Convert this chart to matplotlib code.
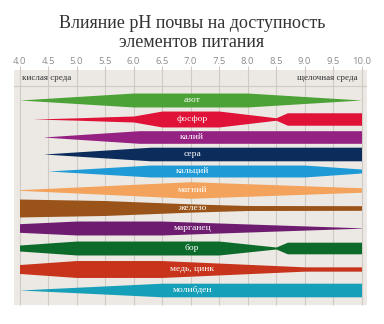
import matplotlib
matplotlib.use("Agg")
import matplotlib.pyplot as plt

# --- data -------------------------------------------------------------
title_lines = ["Влияние pH почвы на доступность", "элементов питания"]
ph_ticks = [4.0, 4.5, 5.0, 5.5, 6.0, 6.5, 7.0, 7.5, 8.0, 8.5, 9.0, 9.5, 10.0]
ph_tick_labels = ["4.0", "4.5", "5.0", "5.5", "6.0", "6.5", "7.0",
                  "7.5", "8.0", "8.5", "9.0", "9.5", "10.0"]
acid_label = "кислая среда"
alkaline_label = "щелочная среда"

elements = ["азот", "фосфор", "калий", "сера", "кальций", "магний",
            "железо", "марганец", "бор", "медь, цинк", "молибден"]

# availability profiles: (pH, relative availability), 1.0 = widest band
nitrogen_ph = [4.0, 6.0, 8.0, 10.0]
nitrogen_av = [0.0, 0.84, 0.84, 0.0]
phosphorus_ph = [4.24, 5.0, 5.6, 6.0, 6.5, 7.5, 8.5, 8.7, 10.0]
phosphorus_av = [0.0, 0.14, 0.28, 0.36, 0.96, 0.96, 0.15, 0.75, 0.75]
potassium_ph = [4.41, 6.1, 10.0]
potassium_av = [0.0, 0.76, 0.76]
sulfur_ph = [4.42, 6.3, 10.0]
sulfur_av = [0.0, 0.82, 0.82]
calcium_ph = [4.5, 6.3, 9.0, 10.0]
calcium_av = [0.0, 0.72, 0.72, 0.24]
magnesium_ph = [4.0, 7.0, 10.0]
magnesium_av = [0.04, 1.0, 0.27]
iron_ph = [4.0, 5.5, 7.0, 8.0, 10.0]
iron_av = [1.08, 0.9, 0.5, 0.3, 0.28]
manganese_ph = [4.0, 5.0, 6.5, 10.0]
manganese_av = [0.52, 0.84, 0.84, 0.02]
boron_ph = [4.0, 5.0, 7.5, 8.5, 8.7, 10.0]
boron_av = [0.36, 0.84, 0.84, 0.12, 0.7, 0.7]
copper_zinc_ph = [4.0, 5.0, 6.5, 9.0, 10.0]
copper_zinc_av = [0.54, 1.02, 1.02, 0.26, 0.26]
molybdenum_ph = [4.0, 6.5, 10.0]
molybdenum_av = [0.0, 0.82, 0.82]

profiles = [
    (nitrogen_ph, nitrogen_av),
    (phosphorus_ph, phosphorus_av),
    (potassium_ph, potassium_av),
    (sulfur_ph, sulfur_av),
    (calcium_ph, calcium_av),
    (magnesium_ph, magnesium_av),
    (iron_ph, iron_av),
    (manganese_ph, manganese_av),
    (boron_ph, boron_av),
    (copper_zinc_ph, copper_zinc_av),
    (molybdenum_ph, molybdenum_av),
]

# --- styling / layout ---------------------------------------------------
colors = ["#4CA236", "#E01238", "#952183", "#0C2D5C", "#1E9BD7", "#F4A35C",
          "#9A5419", "#6E1C70", "#0C6A2B", "#C7341B", "#169FB8"]
row_y = [100, 119, 137, 154, 171, 190, 208, 228, 248, 269, 290]
half_scale = 8.3
W, H = 384, 324
bg = "#ECE9E4"
grid_c = "#CFCAC3"
serif = ["Liberation Serif", "DejaVu Serif"]

fig = plt.figure(figsize=(W / 100, H / 100), dpi=100)
fig.patch.set_facecolor("white")

# axes spans the beige panel; x in pH, y in rows from the top
px_left, px_right, px_top, px_bot = 14, 367, 70, 305
ph0_px, ph_step_px = 19.5, 57.0
to_ph = lambda px: 4.0 + (px - ph0_px) / ph_step_px
ax = fig.add_axes([px_left / W, 1 - px_bot / H,
                   (px_right - px_left) / W, (px_bot - px_top) / H])
ax.set_xlim(to_ph(px_left), to_ph(px_right))
ax.set_ylim(px_bot, px_top)
ax.set_facecolor(bg)
for s in ax.spines.values():
    s.set_visible(False)
ax.set_yticks([])

# pH scale on top
ax.set_xticks(ph_ticks)
ax.set_xticklabels(ph_tick_labels)
ax.xaxis.tick_top()
ax.tick_params(axis="x", length=0, pad=3.0, labelsize=6.8,
               labelcolor="#8C8C8C")
for lab in ax.get_xticklabels():
    lab.set_fontfamily(["Open Sans", "DejaVu Sans"])

# vertical grid, running slightly above the panel as tick marks
ax.vlines(ph_ticks, px_top - 4, px_bot, colors=grid_c, linewidth=0.8,
          clip_on=False, zorder=1)
# header strip line
ax.axhline(86, color=grid_c, linewidth=0.8, zorder=1)

ax.text(to_ph(22), 78, acid_label, ha="left", va="center",
        fontsize=6.5, color="#333333", family=serif, zorder=3)
ax.text(to_ph(357), 78, alkaline_label, ha="right", va="center",
        fontsize=6.5, color="#333333", family=serif, zorder=3)

# availability bands
for name, (ph, av), yc, col in zip(elements, profiles, row_y, colors):
    half = [a * half_scale for a in av]
    ax.fill_between(ph, [yc - h for h in half], [yc + h for h in half],
                    color=col, linewidth=0, zorder=2)
    ax.text(7.03, yc, name, ha="center", va="center", color="white",
            fontsize=6.8, family=serif, zorder=3)

# title
fig.text(0.5, 1 - 24 / H, title_lines[0], ha="center", va="center",
         fontsize=13, color="#333333", family=serif)
fig.text(0.5, 1 - 42.5 / H, title_lines[1], ha="center", va="center",
         fontsize=13, color="#333333", family=serif)

fig.savefig("out.png", dpi=100, facecolor="white")
